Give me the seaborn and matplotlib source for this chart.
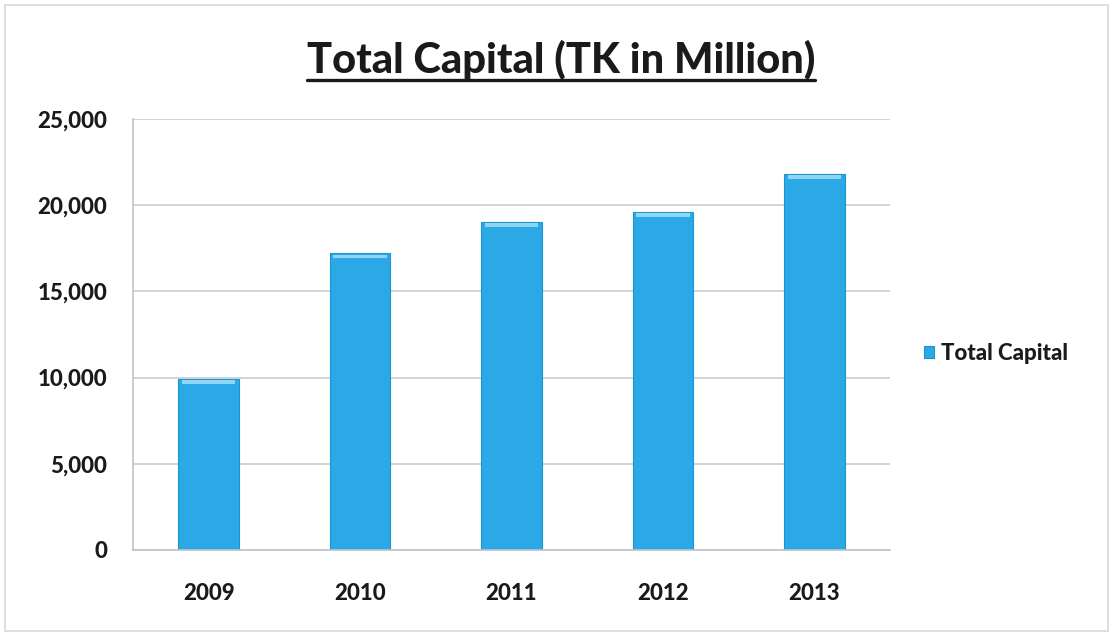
import matplotlib
matplotlib.use("Agg")
import matplotlib.pyplot as plt
from matplotlib.lines import Line2D
from matplotlib.patches import Rectangle
from matplotlib.ticker import FuncFormatter, FixedLocator
import seaborn as sns
import pandas as pd

years = ["2009", "2010", "2011", "2012", "2013"]
total_capital = [9900, 17200, 19000, 19600, 21800]
y_ticks = [0, 5000, 10000, 15000, 20000, 25000]

sns.set_theme(style="white")
plt.rcParams["font.family"] = ["Lato", "DejaVu Sans"]

df = pd.DataFrame({"Year": years, "Total Capital": total_capital})

W, H = 1115, 635
fig = plt.figure(figsize=(W / 100, H / 100), dpi=100)
ax = fig.add_axes([133 / W, 1 - 550 / H, 757 / W, 431 / H])

bar_color = "#2BA9E6"
sns.barplot(data=df, x="Year", y="Total Capital", ax=ax, color=bar_color,
            width=0.40, saturation=1, label="Total Capital",
            edgecolor="#1E93CF", linewidth=0.8)

# lighter bevel across the top of each bar
for p in ax.patches:
    x0, w, h = p.get_x(), p.get_width(), p.get_height()
    ax.add_patch(Rectangle((x0 + w * 0.06, h - 280), w * 0.88, 220,
                           color="#8FD6F5", lw=0, zorder=p.get_zorder() + 0.1))

ax.set_ylim(0, 25000)
ax.set_xlim(-0.5, len(years) - 0.5)
ax.yaxis.set_major_locator(FixedLocator(y_ticks))
ax.yaxis.set_major_formatter(FuncFormatter(lambda v, _: f"{int(v):,}"))
ax.grid(axis="y", color="#C9CDD2", linewidth=1.2)
ax.set_axisbelow(True)
ax.set_xlabel("")
ax.set_ylabel("")

for side in ["top", "right"]:
    ax.spines[side].set_visible(False)
for side in ["left", "bottom"]:
    ax.spines[side].set_color("#BFC3C8")
    ax.spines[side].set_linewidth(1.2)

ax.set_xticks([i - 0.5 for i in range(len(years) + 1)], minor=True)
ax.tick_params(axis="x", which="minor", length=6, color="#BFC3C8", width=1.2)
ax.tick_params(axis="x", which="major", length=0, pad=24)
ax.tick_params(axis="y", which="major", length=4.5, color="#BFC3C8", width=1.2, pad=14)
for lab in ax.get_xticklabels() + ax.get_yticklabels():
    lab.set_fontweight(900)
    lab.set_fontsize(16)
    lab.set_color("#1A1A1A")

leg = ax.legend(loc="center left", bbox_to_anchor=(924 / W, 1 - 353 / H),
                bbox_transform=fig.transFigure, frameon=False,
                borderpad=0, borderaxespad=0,
                handlelength=0.45, handleheight=0.45, handletextpad=0.3,
                prop={"weight": 900, "size": 16})
for t in leg.get_texts():
    t.set_color("#1A1A1A")

title = fig.text(561 / W, 1 - 73 / H, "Total Capital (TK in Million)",
                 ha="center", va="baseline", fontsize=30, fontweight=900,
                 color="#1A1A1A")

# underline the title
fig.canvas.draw()
bb = title.get_window_extent(renderer=fig.canvas.get_renderer())
uy = 1 - 80 / H
fig.add_artist(Line2D([bb.x0 / W, bb.x1 / W], [uy, uy], color="#1A1A1A",
                      linewidth=2.4, transform=fig.transFigure))

# outer frame
fig.add_artist(Rectangle((5 / W, 4 / H), 1103 / W, 626 / H,
                         transform=fig.transFigure, fill=False,
                         edgecolor="#D5D8DC", linewidth=1.2))

fig.savefig("out.png", dpi=100)
